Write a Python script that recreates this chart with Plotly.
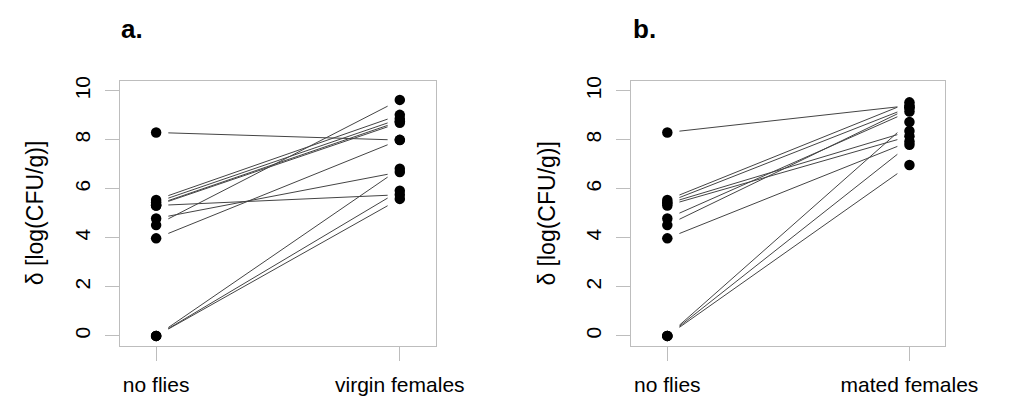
import plotly.graph_objects as go

# ---- data ----
categories_a = ["no flies", "virgin females"]
categories_b = ["no flies", "mated females"]
panel_titles = ["a.", "b."]
y_title = "δ [log(CFU/g)]"
y_ticks = [0, 2, 4, 6, 8, 10]

a_no_flies = [8.30, 4.52, 5.55, 5.45, 5.35, 5.32, 3.98, 4.79, 5.32, 0.0, 0.0, 0.0]
a_virgin = [7.99, 9.63, 9.02, 8.86, 8.76, 8.70, 8.00, 6.69, 5.76, 6.82, 5.92, 5.59]

b_no_flies = [8.30, 4.52, 5.55, 5.45, 5.40, 5.32, 3.98, 4.79, 0.0, 0.0, 0.0]
b_mated = [9.40, 9.30, 9.53, 9.33, 8.36, 8.15, 7.93, 9.16, 8.73, 7.80, 6.97]

# ---- styling ----
FONT = "Liberation Sans, Arial, sans-serif"
BOX = "#bdbdbd"
LINE = "#444444"
GAP = 0.05  # fraction of each segment left blank next to the points

fig = go.Figure()

panels = [
    (a_no_flies, a_virgin, categories_a, "x", "y", [0.1219, 0.4425]),
    (b_no_flies, b_mated, categories_b, "x2", "y2", [0.6411, 0.9597]),
]
ydom = [0.1397, 0.808]

for i, (left, right, cats, xr, yr, xdom) in enumerate(panels):
    sx, sy = [], []
    for y1, y2 in zip(left, right):
        sx += [1 + GAP, 2 - GAP, None]
        sy += [y1 + GAP * (y2 - y1), y2 - GAP * (y2 - y1), None]
    fig.add_trace(go.Scatter(x=sx, y=sy, mode="lines", xaxis=xr, yaxis=yr,
                             line=dict(color=LINE, width=1), showlegend=False,
                             hoverinfo="skip"))
    fig.add_trace(go.Scatter(x=[1] * len(left) + [2] * len(right), y=left + right,
                             mode="markers", xaxis=xr, yaxis=yr,
                             marker=dict(color="black", size=10.5), showlegend=False))
    suffix = "" if i == 0 else "2"
    fig.update_layout(**{
        "xaxis" + suffix: dict(domain=xdom, range=[0.852, 2.148], tickvals=[1, 2],
                               ticktext=cats, ticks="outside", ticklen=14, tickcolor=BOX,
                               showline=True, linecolor=BOX, mirror=True, showgrid=False,
                               zeroline=False, ticklabelstandoff=6,
                               tickfont=dict(size=21, color="black", family=FONT),
                               anchor="y" + suffix),
        "yaxis" + suffix: dict(domain=ydom, range=[-0.4, 10.4], tickvals=y_ticks,
                               ticks="outside", ticklen=14, tickcolor=BOX, tickangle=-90,
                               showline=True, linecolor=BOX, mirror=True, showgrid=False,
                               zeroline=False, ticklabelstandoff=7,
                               tickfont=dict(size=21, color="black", family=FONT),
                               anchor="x" + suffix),
    })
    fig.add_annotation(text="<b>" + panel_titles[i] + "</b>", xref="paper", yref="paper",
                       x=xdom[0] - 1 / 1017, y=1 - 24 / 401, xanchor="left", yanchor="middle",
                       showarrow=False, font=dict(size=26, family=FONT, color="black"))
    fig.add_annotation(text=y_title, xref="paper", yref="paper",
                       x=xdom[0] - 87 / 1017, y=(ydom[0] + ydom[1]) / 2,
                       xanchor="center", yanchor="middle", textangle=-90,
                       showarrow=False, font=dict(size=23, family=FONT, color="black"))

fig.update_layout(width=1017, height=401, margin=dict(l=0, r=0, t=0, b=0),
                  plot_bgcolor="white", paper_bgcolor="white",
                  font=dict(family=FONT))

fig.write_html("out.html")
